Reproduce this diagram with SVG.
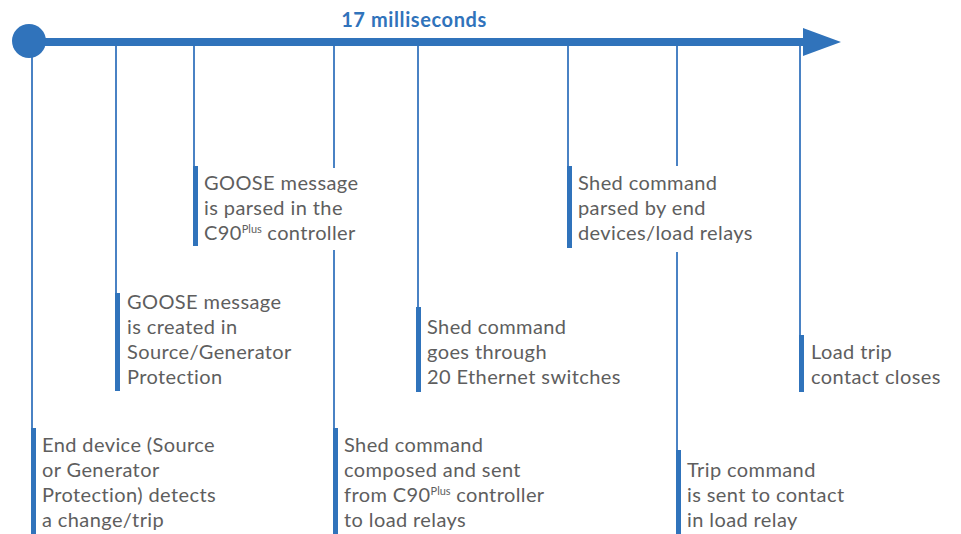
<svg xmlns="http://www.w3.org/2000/svg" width="961" height="534" viewBox="0 0 961 534">
<style>
  .lbl { font-family: Lato, "Liberation Sans", sans-serif; font-size: 20px; letter-spacing: 0.4px; fill: #5e5e5e; }
  .sup { font-size: 11px; letter-spacing: 0; }
  .title { font-family: Lato, "Liberation Sans", sans-serif; font-size: 20px; letter-spacing: 0.6px; font-weight: bold; fill: #3073bb; }
  .thin { stroke: #4a82c4; stroke-width: 2; fill: none; }
  .bar { fill: #3073bb; }
  .bg { fill: #ffffff; }
</style>
<rect width="961" height="534" fill="#ffffff"/>
<g id="connectors">
  <line class="thin" x1="32" y1="46" x2="32" y2="430"/>
  <line class="thin" x1="116" y1="46" x2="116" y2="295"/>
  <line class="thin" x1="194" y1="46" x2="194" y2="168"/>
  <line class="thin" x1="334" y1="46" x2="334" y2="430"/>
  <line class="thin" x1="418" y1="46" x2="418" y2="309"/>
  <line class="thin" x1="568" y1="46" x2="568" y2="168"/>
  <line class="thin" x1="677" y1="46" x2="677" y2="452"/>
  <line class="thin" x1="800" y1="46" x2="800" y2="337"/>
</g>
<g id="timeline">
  <rect x="29" y="38" width="775" height="8" fill="#3073bb"/>
  <polygon points="803,28 841,42 803,56" fill="#3073bb"/>
  <circle cx="29" cy="41" r="17" fill="#3073bb"/>
  <text class="title" x="414" y="27" text-anchor="middle">17 milliseconds</text>
</g>
<g id="n1">
  <rect class="bar" x="31" y="428" width="5" height="106"/>
  <text class="lbl" x="42" y="452">End device (Source</text>
  <text class="lbl" x="42" y="477">or Generator</text>
  <text class="lbl" x="42" y="502">Protection) detects</text>
  <text class="lbl" x="42" y="527">a change/trip</text>
</g>
<g id="n2">
  <rect class="bar" x="115" y="293" width="5" height="98"/>
  <text class="lbl" x="127" y="309">GOOSE message</text>
  <text class="lbl" x="127" y="334">is created in</text>
  <text class="lbl" x="127" y="359">Source/Generator</text>
  <text class="lbl" x="127" y="384">Protection</text>
</g>
<g id="n3">
  <rect class="bg" x="200" y="168" width="162" height="82"/>
  <rect class="bar" x="193" y="166" width="5" height="80"/>
  <text class="lbl" x="204" y="190">GOOSE message</text>
  <text class="lbl" x="204" y="215">is parsed in the</text>
  <text class="lbl" x="204" y="240">C90<tspan class="sup" dy="-7">Plus</tspan><tspan dy="7"> controller</tspan></text>
</g>
<g id="n4">
  <rect class="bar" x="333" y="428" width="5" height="106"/>
  <text class="lbl" x="344" y="452">Shed command</text>
  <text class="lbl" x="344" y="477">composed and sent</text>
  <text class="lbl" x="344" y="502">from C90<tspan class="sup" dy="-7">Plus</tspan><tspan dy="7"> controller</tspan></text>
  <text class="lbl" x="344" y="527">to load relays</text>
</g>
<g id="n5">
  <rect class="bar" x="416" y="307" width="5" height="85"/>
  <text class="lbl" x="427" y="334">Shed command</text>
  <text class="lbl" x="427" y="359">goes through</text>
  <text class="lbl" x="427" y="384">20 Ethernet switches</text>
</g>
<g id="n6">
  <rect class="bg" x="574" y="166" width="190" height="86"/>
  <rect class="bar" x="567" y="166" width="5" height="82"/>
  <text class="lbl" x="578" y="190">Shed command</text>
  <text class="lbl" x="578" y="215">parsed by end</text>
  <text class="lbl" x="578" y="240">devices/load relays</text>
</g>
<g id="n7">
  <rect class="bar" x="676" y="450" width="5" height="84"/>
  <text class="lbl" x="687" y="477">Trip command</text>
  <text class="lbl" x="687" y="502">is sent to contact</text>
  <text class="lbl" x="687" y="527">in load relay</text>
</g>
<g id="n8">
  <rect class="bar" x="799" y="335" width="5" height="57"/>
  <text class="lbl" x="811" y="359">Load trip</text>
  <text class="lbl" x="811" y="384">contact closes</text>
</g>
</svg>
